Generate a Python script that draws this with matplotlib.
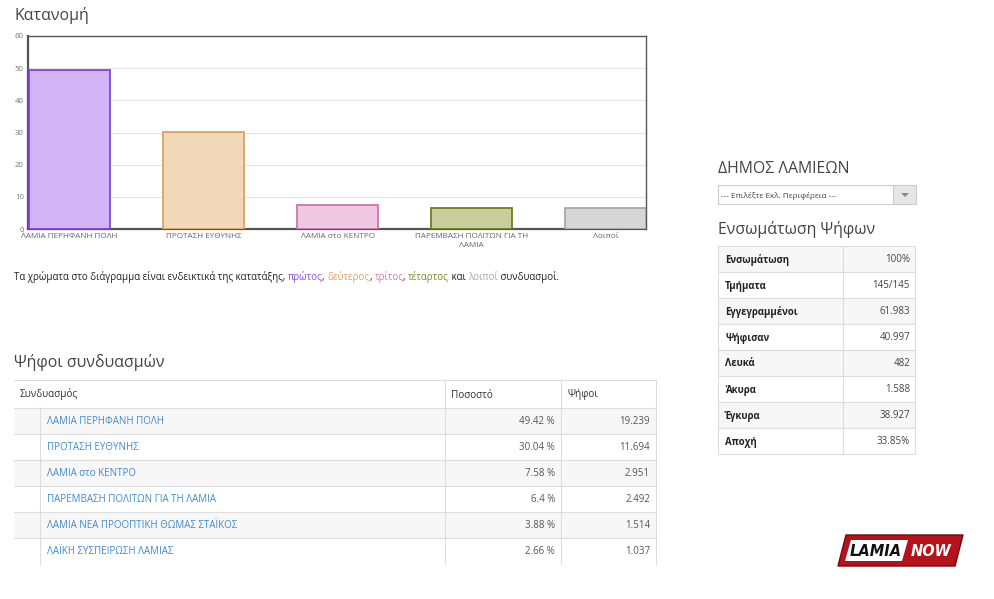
import matplotlib
matplotlib.use("Agg")
import matplotlib.pyplot as plt
from matplotlib.patches import Rectangle, Polygon

plt.rcParams["font.family"] = ["Open Sans", "DejaVu Sans"]

# ---- data ----
bar_labels = ["ΛΑΜΙΑ ΠΕΡΗΦΑΝΗ ΠΟΛΗ", "ΠΡΟΤΑΣΗ ΕΥΘΥΝΗΣ", "ΛΑΜΙΑ στο ΚΕΝΤΡΟ",
              "ΠΑΡΕΜΒΑΣΗ ΠΟΛΙΤΩΝ ΓΙΑ ΤΗ\nΛΑΜΙΑ", "Λοιποί"]
bar_values = [49.42, 30.04, 7.58, 6.40, 6.56]
bar_fill = ["#d3b4f6", "#f0d8b8", "#f0c8e2", "#c8cf9c", "#d6d6d6"]
bar_edge = ["#8045d8", "#d8a660", "#c877ac", "#6d7f22", "#a8a8a8"]

parties = ["ΛΑΜΙΑ ΠΕΡΗΦΑΝΗ ΠΟΛΗ", "ΠΡΟΤΑΣΗ ΕΥΘΥΝΗΣ", "ΛΑΜΙΑ στο ΚΕΝΤΡΟ",
           "ΠΑΡΕΜΒΑΣΗ ΠΟΛΙΤΩΝ ΓΙΑ ΤΗ ΛΑΜΙΑ", "ΛΑΜΙΑ ΝΕΑ ΠΡΟΟΠΤΙΚΗ ΘΩΜΑΣ ΣΤΑΪΚΟΣ",
           "ΛΑΪΚΗ ΣΥΣΠΕΙΡΩΣΗ ΛΑΜΙΑΣ"]
percents = ["49.42 %", "30.04 %", "7.58 %", "6.4 %", "3.88 %", "2.66 %"]
votes = ["19.239", "11.694", "2.951", "2.492", "1.514", "1.037"]

summary_labels = ["Ενσωμάτωση", "Τμήματα", "Εγγεγραμμένοι", "Ψήφισαν",
                  "Λευκά", "Άκυρα", "Έγκυρα", "Αποχή"]
summary_values = ["100%", "145/145", "61.983", "40.997", "482", "1.588",
                  "38.927", "33.85%"]

note_parts = [("Τα χρώματα στο διάγραμμα είναι ενδεικτικά της κατατάξης, ", "#222222"),
              ("πρώτος", "#8a4fe0"), (", ", "#222222"),
              ("δεύτερος", "#e2a062"), (", ", "#222222"),
              ("τρίτος", "#d27ab8"), (", ", "#222222"),
              ("τέταρτος", "#7d8c2c"), (" και ", "#222222"),
              ("λοιποί", "#aaaaaa"), (" συνδυασμοί.", "#222222")]

W, H = 994, 599
fig = plt.figure(figsize=(W / 100, H / 100), dpi=100)

# background axes in pixel coordinates
bg = fig.add_axes([0, 0, 1, 1])
bg.set_xlim(0, W)
bg.set_ylim(H, 0)
bg.axis("off")

title_color = "#444444"
title_size = 11.4
bg.text(14, 20, "Κατανομή", fontsize=title_size, color=title_color, va="baseline")
bg.text(14, 367, "Ψήφοι συνδυασμών", fontsize=title_size, color=title_color, va="baseline")
bg.text(718, 173, "ΔΗΜΟΣ ΛΑΜΙΕΩΝ", fontsize=title_size, color=title_color, va="baseline")
bg.text(718, 234, "Ενσωμάτωση Ψήφων", fontsize=title_size, color=title_color, va="baseline")

# ---- bar chart ----
ax = fig.add_axes([28 / W, 1 - 229 / H, 618 / W, 193 / H])
width = 0.604
pos = list(range(len(bar_values)))
ax.bar(pos, bar_values, width=width, align="edge", color=bar_fill,
       edgecolor=bar_edge, linewidth=1.3, zorder=3)
ax.set_xlim(-0.0075, len(bar_values) - 1 + width)
ax.set_ylim(0, 60)
ax.set_yticks(range(0, 61, 10))
ax.set_xticks([p + width / 2 for p in pos])
ax.set_xticklabels(bar_labels, fontsize=5.9, color="#666666", linespacing=1.4)
ax.tick_params(axis="both", length=0)
ax.tick_params(axis="y", labelsize=5.6, labelcolor="#777777", pad=3)
ax.tick_params(axis="x", pad=3)
ax.grid(axis="y", color="#e6e6e6", linewidth=0.8, zorder=0)
for side, sp in ax.spines.items():
    sp.set_color("#555555")
    sp.set_linewidth(1.6 if side in ("left", "bottom") else 1.0)

# ---- coloured note line ----
fig.canvas.draw()
renderer = fig.canvas.get_renderer()


def text_width(s, size):
    # measure with a guard char so trailing spaces are counted
    t = bg.text(0, 0, s + "|", fontsize=size)
    g = bg.text(0, 0, "|", fontsize=size)
    w = t.get_window_extent(renderer=renderer).width - g.get_window_extent(renderer=renderer).width
    t.remove()
    g.remove()
    return w


note_size = 7.0
x = 14
for txt, col in note_parts:
    bg.text(x, 280, txt, fontsize=note_size, color=col, va="baseline")
    x += text_width(txt, note_size)

# ---- party table ----
line_c = "#dddddd"
row_h = 26
top = 380
head_b = 408
left, right = 14, 656
for i in range(len(parties)):
    y0 = head_b + i * row_h
    if i % 2 == 0:
        bg.add_patch(Rectangle((left, y0), right - left, row_h,
                               facecolor="#f7f7f7", edgecolor="none"))
for y in [top, head_b] + [head_b + row_h * (i + 1) for i in range(len(parties) - 1)]:
    bg.plot([left, right], [y, y], color=line_c, linewidth=0.8)
bottom = head_b + row_h * len(parties)
for xv in (445, 561, right):
    bg.plot([xv, xv], [top, bottom], color=line_c, linewidth=0.8)
bg.plot([40, 40], [head_b, bottom], color=line_c, linewidth=0.8)

bg.text(20, 397.5, "Συνδυασμός", fontsize=7.2, color="#333333", va="baseline")
bg.text(451, 397.5, "Ποσοστό", fontsize=7.2, color="#333333", va="baseline")
bg.text(567, 397.5, "Ψήφοι", fontsize=7.2, color="#333333", va="baseline")
for i, (name, pct, v) in enumerate(zip(parties, percents, votes)):
    yb = head_b + row_h * i + row_h / 2 + 3.5
    bg.text(47, yb, name, fontsize=7.0, color="#3d8bd0", va="baseline")
    bg.text(555, yb, pct, fontsize=7.0, color="#555555", va="baseline", ha="right")
    bg.text(650, yb, v, fontsize=7.0, color="#555555", va="baseline", ha="right")

# ---- right panel ----
bg.add_patch(Rectangle((718, 185), 198, 19, facecolor="white", edgecolor="#cccccc", linewidth=0.8))
bg.add_patch(Rectangle((893, 185), 23, 19, facecolor="#e6e6e6", edgecolor="#cccccc", linewidth=0.8))
bg.add_patch(Polygon([(901, 193), (909, 193), (905, 197)], facecolor="#888888", edgecolor="none"))
bg.text(721, 198, "--- Επιλέξτε Εκλ. Περιφέρεια ---", fontsize=5.9, color="#444444", va="baseline")

s_left, s_right, s_mid, s_top = 718, 915, 843, 246
for i in range(len(summary_labels)):
    y0 = s_top + row_h * i
    fc = "#f7f7f7" if i % 2 == 0 else "white"
    bg.add_patch(Rectangle((s_left, y0), s_right - s_left, row_h,
                           facecolor=fc, edgecolor=line_c, linewidth=0.8))
    yb = y0 + row_h / 2 + 3.5
    bg.text(725, yb, summary_labels[i], fontsize=6.9, fontweight="bold",
            color="#222222", va="baseline")
    bg.text(910, yb, summary_values[i], fontsize=7.0, color="#444444",
            va="baseline", ha="right")
s_bot = s_top + row_h * len(summary_labels)
bg.plot([s_mid, s_mid], [s_top, s_bot], color=line_c, linewidth=0.8)

# ---- logo ----
bg.add_patch(Polygon([(838, 566), (846, 535), (963, 535), (955, 566)],
                     facecolor="#b5121b", edgecolor="#6e0a0f", linewidth=1))
bg.add_patch(Polygon([(845, 561), (851, 540), (908, 540), (902, 561)],
                     facecolor="white", edgecolor="none"))
bg.text(876, 551, "LAMIA", fontsize=10.5, fontweight="bold", fontstyle="italic",
        color="#111111", ha="center", va="center", family="DejaVu Sans")
bg.text(931, 551, "NOW", fontsize=10.5, fontweight="bold", fontstyle="italic",
        color="white", ha="center", va="center", family="DejaVu Sans")

fig.savefig("out.png", dpi=100)
